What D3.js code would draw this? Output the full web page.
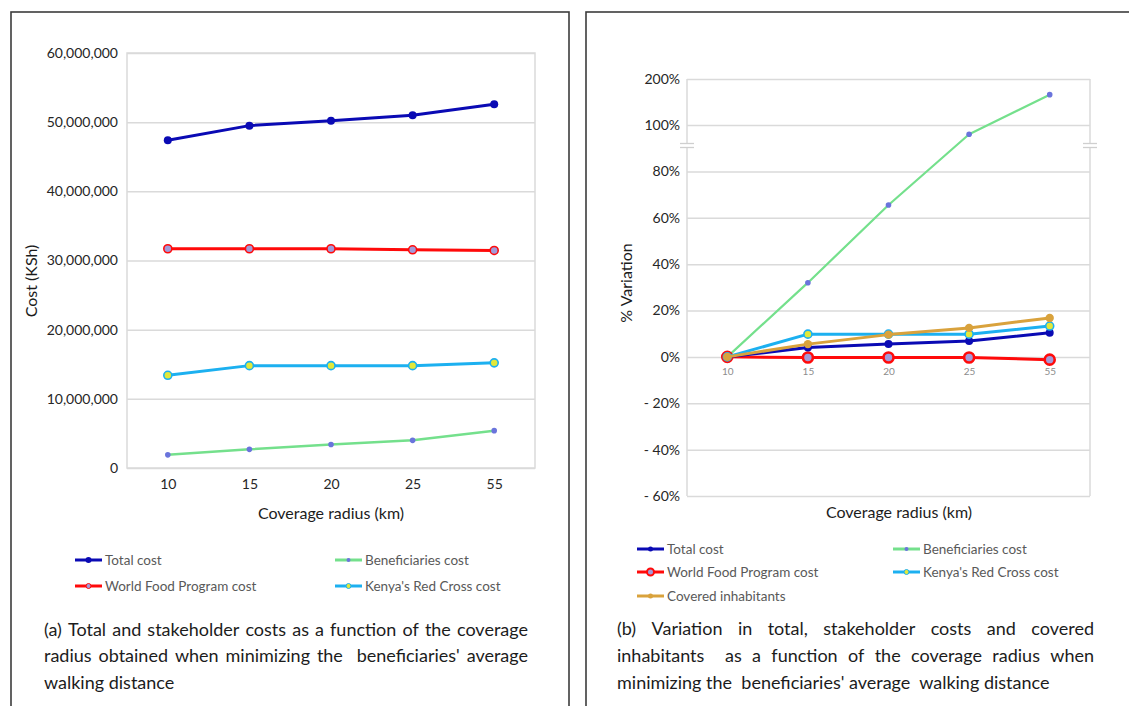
<!DOCTYPE html>
<html><head><meta charset="utf-8">
<script src="https://cdn.jsdelivr.net/npm/d3@7"></script>
<style>
body{margin:0;background:#fff}
svg{display:block}
text{font-family:Lato,'Open Sans',sans-serif}
</style>
</head><body>
<svg id="c" width="1129" height="706"></svg>
<script>
// ---------- data ----------
const categories = ["10","15","20","25","55"];

// panel (a): costs in KSh
const totalCost         = [47.4e6, 49.5e6, 50.2e6, 51.0e6, 52.6e6];
const beneficiariesCost = [1.9e6, 2.7e6, 3.4e6, 4.0e6, 5.4e6];
const wfpCost           = [31.7e6, 31.7e6, 31.7e6, 31.55e6, 31.45e6];
const redCrossCost      = [13.4e6, 14.8e6, 14.8e6, 14.8e6, 15.2e6];
const costTicks = [0, 10e6, 20e6, 30e6, 40e6, 50e6, 60e6];

// panel (b): % variation
const totalVar         = [0, 4.0, 5.5, 6.8, 10.4];
const beneficiariesVar = [0, 32, 65.5, 96, 166];
const wfpVar           = [0, -0.3, -0.3, -0.3, -1.2];
const redCrossVar      = [0, 9.8, 9.8, 9.8, 13.3];
const coveredVar       = [0, 5.5, 9.6, 12.5, 16.8];
const variationTicks = [-60, -40, -20, 0, 20, 40, 60, 80, 100, 200];

const seriesNames = ["Total cost", "Beneficiaries cost", "World Food Program cost", "Kenya's Red Cross cost", "Covered inhabitants"];
const captionA = ["(a) Total and stakeholder costs as a function of the coverage",
                  "radius obtained when minimizing the  beneficiaries' average",
                  "walking distance"];
const captionB = ["(b) Variation in total, stakeholder costs and covered",
                  "inhabitants  as a function of the coverage radius when",
                  "minimizing the  beneficiaries' average  walking distance"];

// ---------- styles ----------
const styles = {
  "Total cost":              {color:"#0a0ab4", width:3,   r:4,   fill:"#0a0ab4", sw:0},
  "Beneficiaries cost":      {color:"#74e08c", width:2.5, r:2.8, fill:"#6a74dc", sw:0},
  "World Food Program cost": {color:"#ff0a0a", width:3,   r:4,   fill:"#a39ad8", sw:1.6},
  "Kenya's Red Cross cost":  {color:"#1cb0f0", width:3,   r:4,   fill:"#e2e83a", sw:1.6},
  "Covered inhabitants":     {color:"#d9a23c", width:3,   r:4.2, fill:"#d9a23c", sw:0}
};

const svg = d3.select("#c");
svg.append("rect").attr("width",1129).attr("height",706).attr("fill","#fff");

// panel frames
svg.append("rect").attr("x",11).attr("y",12).attr("width",558).attr("height",720)
  .attr("fill","none").attr("stroke","#3c3c3c").attr("stroke-width",1.6);
svg.append("rect").attr("x",586).attr("y",12).attr("width",600).attr("height",720)
  .attr("fill","none").attr("stroke","#3c3c3c").attr("stroke-width",1.6);

const grid = "#dadada";

function drawSeries(g, x, y, vals, name, opts={}) {
  const s = styles[name];
  const pts = categories.map((c,i)=>[x(c), y(vals[i])]);
  g.append("path").attr("d", d3.line()(pts)).attr("fill","none")
    .attr("stroke", s.color).attr("stroke-width", opts.width||s.width)
    .attr("stroke-linejoin","round").attr("stroke-linecap","round");
  const r = opts.r || s.r;
  const sw = opts.sw!==undefined ? opts.sw : s.sw;
  g.selectAll(null).data(pts).join("circle")
    .attr("cx",d=>d[0]).attr("cy",d=>d[1]).attr("r",r)
    .attr("fill", s.fill)
    .attr("stroke", sw>0 ? s.color : "none").attr("stroke-width", sw);
}

function legendItem(g, x, y, name, mr, msw) {
  const s = styles[name];
  g.append("line").attr("x1",x).attr("x2",x+27).attr("y1",y).attr("y2",y)
    .attr("stroke",s.color).attr("stroke-width",3);
  g.append("circle").attr("cx",x+13.5).attr("cy",y).attr("r",mr)
    .attr("fill",s.fill).attr("stroke", msw>0?s.color:"none").attr("stroke-width",msw);
  g.append("text").attr("x",x+30).attr("y",y).attr("dy","0.35em")
    .attr("font-size",13.5).attr("fill","#595959").text(name);
}

function captionLine(g, text, x0, x1, y, size, justify) {
  const t = g.append("text").attr("y",y).attr("font-size",size).attr("fill","#1c1c1c");
  if (!justify) {
    t.attr("x",x0).attr("xml:space","preserve").style("white-space","pre").text(text);
    return;
  }
  const words = text.split(" ");
  const meas = g.append("text").attr("font-size",size).attr("visibility","hidden");
  const widths = words.map(w => { meas.text(w); return w ? meas.node().getComputedTextLength() : 0; });
  meas.remove();
  const total = d3.sum(widths);
  const gap = (x1 - x0 - total) / (words.length - 1);
  let cx = x0;
  words.forEach((w,i) => {
    if (w) t.append("tspan").attr("x",cx).text(w);
    cx += widths[i] + gap;
  });
}

// ================= Panel (a) =================
{
  const L = 127, R = 535, T = 53, B = 468;
  const x = d3.scalePoint().domain(categories).range([L,R]).padding(0.5);
  const y = d3.scaleLinear().domain([0,60e6]).range([B,T]);
  const g = svg.append("g");

  const ya = g.append("g").attr("transform",`translate(${L},0)`)
    .call(d3.axisLeft(y).tickValues(costTicks).tickSize(-(R-L)).tickPadding(9).tickFormat(d3.format(",")));
  ya.select(".domain").remove();
  ya.selectAll(".tick line").attr("stroke",grid).attr("stroke-width",1.5);
  ya.selectAll(".tick text").attr("font-size",14).attr("fill","#262626").attr("font-family","Lato");

  g.append("rect").attr("x",L).attr("y",T).attr("width",R-L).attr("height",B-T)
    .attr("fill","none").attr("stroke",grid).attr("stroke-width",1.5);

  const xa = g.append("g").attr("transform",`translate(0,${B})`)
    .call(d3.axisBottom(x).tickSize(0).tickPadding(11));
  xa.select(".domain").remove();
  xa.selectAll(".tick text").attr("font-size",14).attr("fill","#262626").attr("font-family","Lato");

  g.append("text").attr("transform",`translate(37,281) rotate(-90)`).attr("text-anchor","middle")
    .attr("font-size",16).attr("fill","#1c1c1c").text("Cost (KSh)");
  g.append("text").attr("x",331).attr("y",513).attr("dy","0.35em").attr("text-anchor","middle")
    .attr("font-size",16).attr("fill","#1c1c1c").text("Coverage radius (km)");

  drawSeries(g, x, y, beneficiariesCost, "Beneficiaries cost");
  drawSeries(g, x, y, redCrossCost, "Kenya's Red Cross cost");
  drawSeries(g, x, y, wfpCost, "World Food Program cost");
  drawSeries(g, x, y, totalCost, "Total cost");

  const lg = svg.append("g");
  legendItem(lg, 75, 560, seriesNames[0], 3, 0);
  legendItem(lg, 335, 560, seriesNames[1], 2, 0);
  legendItem(lg, 75, 586, seriesNames[2], 2.5, 1);
  legendItem(lg, 335, 586, seriesNames[3], 2.5, 1);

  const cg = svg.append("g");
  captionLine(cg, captionA[0], 44, 528, 636, 18, true);
  captionLine(cg, captionA[1], 44, 528, 662, 18, true);
  captionLine(cg, captionA[2], 44, 528, 689, 18, false);
}

// ================= Panel (b) =================
{
  const L = 687, R = 1090, T = 79, B = 496;
  const x = d3.scalePoint().domain(categories).range([L,R]).padding(0.5);
  const y = d3.scaleLinear().domain([-60,100,200]).range([B,125,T]);
  const g = svg.append("g");
  const pct = d => d < 0 ? "- " + Math.abs(d) + "%" : d + "%";

  const ya = g.append("g").attr("transform",`translate(${L},0)`)
    .call(d3.axisLeft(y).tickValues(variationTicks).tickSize(-(R-L)).tickPadding(7).tickFormat(pct));
  ya.select(".domain").remove();
  ya.selectAll(".tick line").attr("stroke",grid).attr("stroke-width",1.5);
  ya.selectAll(".tick text").attr("font-size",14).attr("fill","#262626").attr("font-family","Lato");

  // plot frame with axis break
  const brk = 145.5;
  [L, R].forEach(xx => {
    g.append("line").attr("x1",xx).attr("x2",xx).attr("y1",T).attr("y2",brk-2).attr("stroke",grid).attr("stroke-width",1.5);
    g.append("line").attr("x1",xx).attr("x2",xx).attr("y1",brk+2).attr("y2",B).attr("stroke",grid).attr("stroke-width",1.5);
    [brk-2, brk+2].forEach(yy => g.append("line").attr("x1",xx-7).attr("x2",xx+7).attr("y1",yy).attr("y2",yy)
      .attr("stroke","#cfcfcf").attr("stroke-width",1.3));
  });

  const xa = g.append("g").attr("transform",`translate(0,${y(0)})`)
    .call(d3.axisBottom(x).tickSize(0).tickPadding(11));
  xa.select(".domain").remove();
  xa.selectAll(".tick text").attr("font-size",10).attr("fill","#8c8c8c").attr("font-family","Lato");

  g.append("text").attr("transform",`translate(632,283) rotate(-90)`).attr("text-anchor","middle")
    .attr("font-size",16).attr("fill","#1c1c1c").text("% Variation");
  g.append("text").attr("x",899).attr("y",512).attr("dy","0.35em").attr("text-anchor","middle")
    .attr("font-size",16).attr("fill","#1c1c1c").text("Coverage radius (km)");

  drawSeries(g, x, y, beneficiariesVar, "Beneficiaries cost", {width:2.2});
  drawSeries(g, x, y, wfpVar, "World Food Program cost", {r:5, sw:2.6});
  drawSeries(g, x, y, totalVar, "Total cost");
  drawSeries(g, x, y, redCrossVar, "Kenya's Red Cross cost");
  drawSeries(g, x, y, coveredVar, "Covered inhabitants");

  const lg = svg.append("g");
  legendItem(lg, 637, 549, seriesNames[0], 2.5, 0);
  legendItem(lg, 893, 549, seriesNames[1], 2, 0);
  legendItem(lg, 637, 572, seriesNames[2], 3.5, 2);
  legendItem(lg, 893, 572, seriesNames[3], 2.5, 1);
  legendItem(lg, 637, 596, seriesNames[4], 2.5, 0);

  const cg = svg.append("g");
  captionLine(cg, captionB[0], 617, 1094, 635, 18, true);
  captionLine(cg, captionB[1], 617, 1094, 662, 18, true);
  captionLine(cg, captionB[2], 617, 1094, 689, 18, false);
}
</script>
</body></html>
